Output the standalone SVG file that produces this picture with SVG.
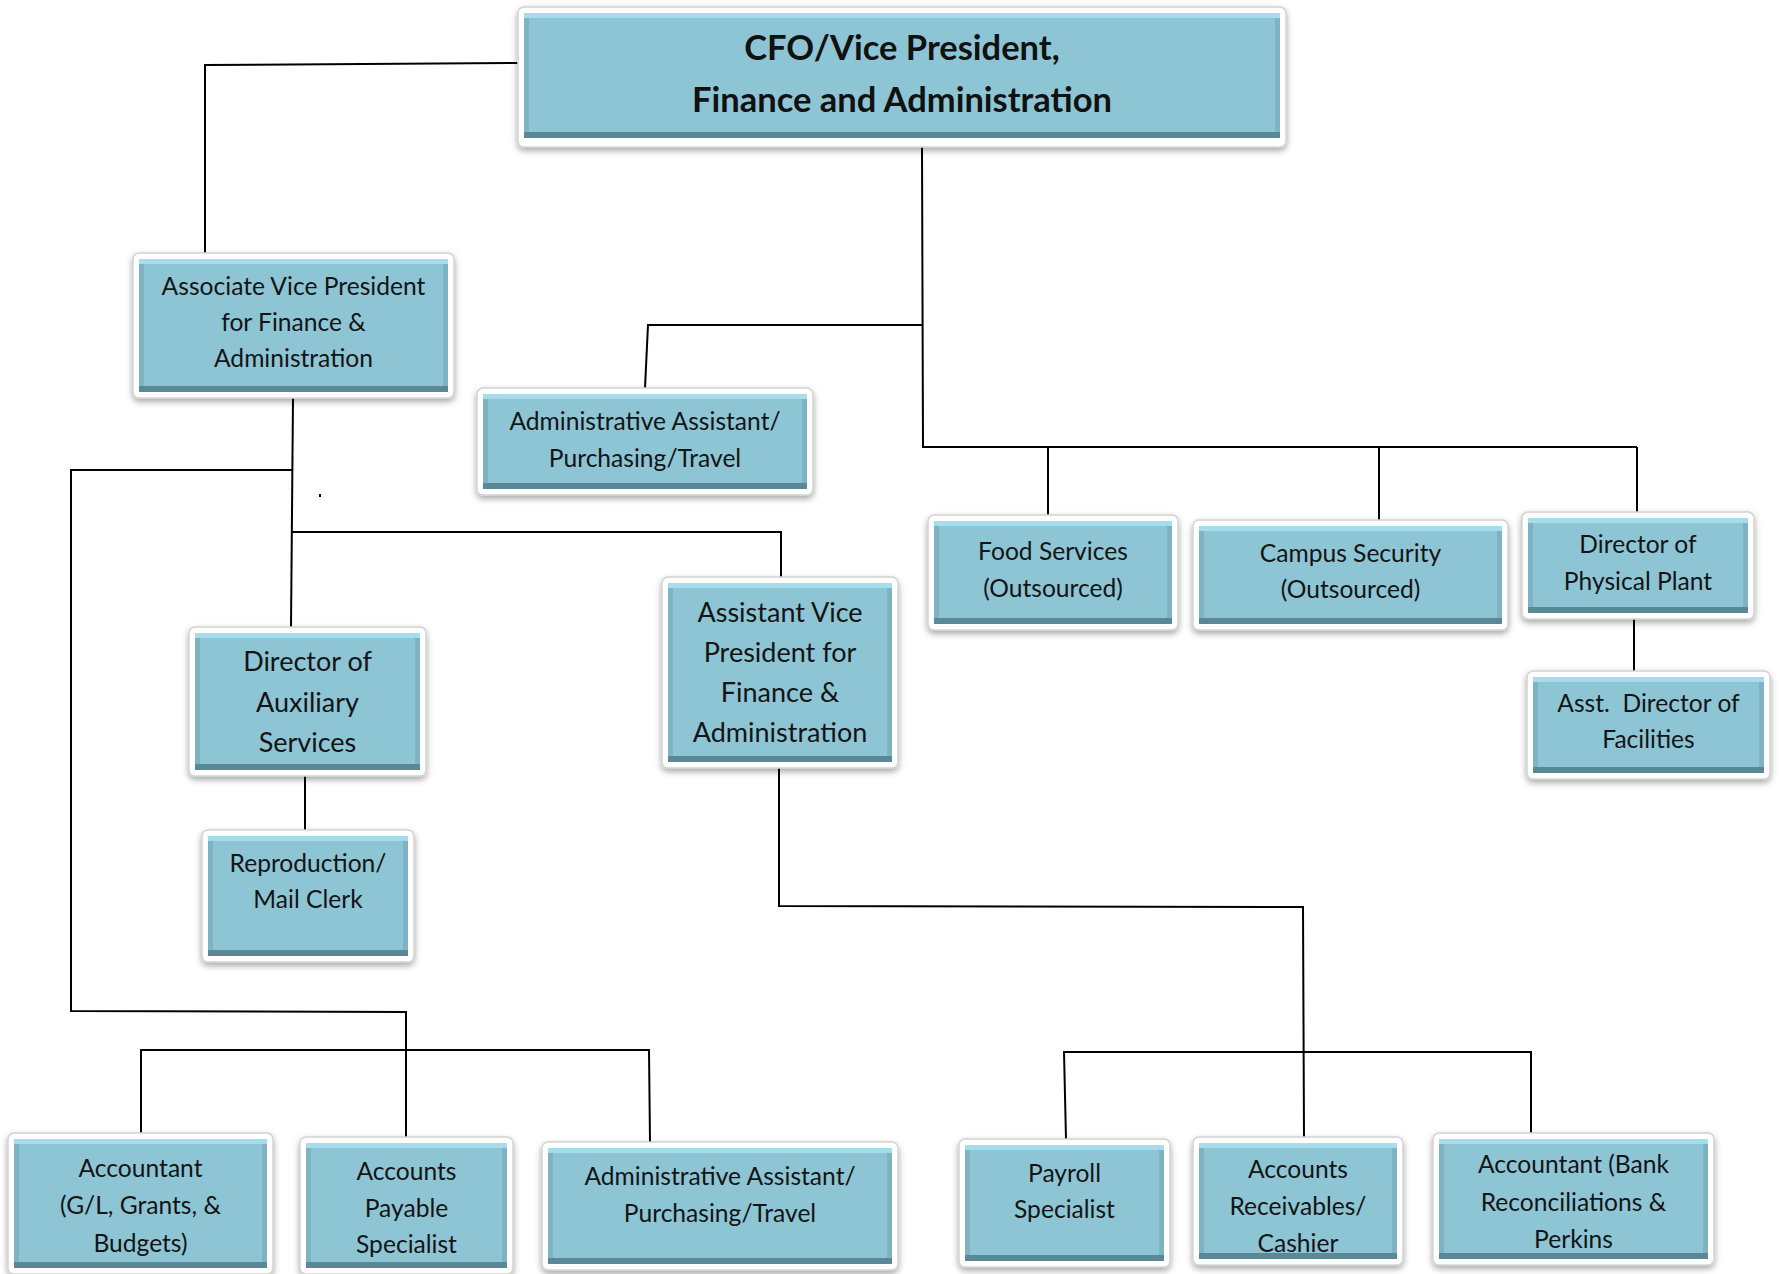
<svg xmlns="http://www.w3.org/2000/svg" width="1779" height="1274" viewBox="0 0 1779 1274">
<defs>
<filter id="sh" x="-10%" y="-10%" width="120%" height="130%">
<feDropShadow dx="0" dy="3" stdDeviation="3" flood-color="#000" flood-opacity="0.35"/>
</filter>
<style>
.frame{fill:#fff;stroke:#d2d2d2;stroke-width:1.5;filter:url(#sh)}
.bd{fill:#5a8896}
.bl{fill:#a6dded}
.bs{fill:#7db3c3}
.face{fill:#8dc5d5}
.lbl{font-family:Lato,"Open Sans","Liberation Sans",sans-serif;font-size:24.6px;fill:#141414;text-anchor:middle}
.big{font-size:27px}
.ttl{font-family:Lato,"Open Sans","Liberation Sans",sans-serif;font-size:34.5px;font-weight:bold;fill:#111;text-anchor:middle}
.wire{fill:none;stroke:#000;stroke-width:2}
</style>
</defs>
<rect width="1779" height="1274" fill="#fff"/>

<g id="connectors">
<path class="wire" d="M523,63 L205,65 L205,253"/>
<path class="wire" d="M922,147 L923,447 L1637,447"/>
<path class="wire" d="M923,325 L648,325 L645,388"/>
<path class="wire" d="M1048,447 L1048,515"/>
<path class="wire" d="M1379,447 L1379,520"/>
<path class="wire" d="M1637,447 L1637,512"/>
<path class="wire" d="M1634,619 L1634,671"/>
<path class="wire" d="M293,398 L291,627"/>
<path class="wire" d="M293,470 L71,470 L71,1011 L406,1012 L406,1137"/>
<path class="wire" d="M292,532 L781,532 L781,577"/>
<path class="wire" d="M141,1133 L141,1050 L649,1050 L650,1142"/>
<path class="wire" d="M305,776 L305,830"/>
<path class="wire" d="M779,768 L779,906 L1303,907 L1304,1137"/>
<path class="wire" d="M1066,1139 L1064,1052 L1531,1052 L1531,1133"/>
<rect x="319" y="494" width="2" height="3" fill="#000"/>
</g>

<g id="n-cfo">
<rect class="frame" x="518" y="7" width="768" height="140" rx="6"/>
<rect class="bd" x="524" y="13" width="756" height="125"/>
<rect class="bl" x="524" y="13" width="756" height="119"/>
<rect class="bs" x="524" y="18" width="756" height="114"/>
<rect class="face" x="529" y="18" width="746" height="114"/>
<text class="ttl"><tspan x="902" y="60">CFO/Vice President,</tspan><tspan x="902" y="112">Finance and Administration</tspan></text>
</g>

<g id="n-assoc">
<rect class="frame" x="133" y="253" width="321" height="145" rx="6"/>
<rect class="bd" x="139" y="259" width="309" height="133"/>
<rect class="bl" x="139" y="259" width="309" height="127"/>
<rect class="bs" x="139" y="264" width="309" height="122"/>
<rect class="face" x="144" y="264" width="299" height="122"/>
<text class="lbl"><tspan x="293.5" y="295">Associate Vice President</tspan><tspan x="293.5" y="331">for Finance &amp;</tspan><tspan x="293.5" y="367">Administration</tspan></text>
</g>

<g id="n-admin1">
<rect class="frame" x="477" y="388" width="336" height="107" rx="6"/>
<rect class="bd" x="483" y="394" width="324" height="95"/>
<rect class="bl" x="483" y="394" width="324" height="89"/>
<rect class="bs" x="483" y="399" width="324" height="84"/>
<rect class="face" x="488" y="399" width="314" height="84"/>
<text class="lbl"><tspan x="645" y="430">Administrative Assistant/</tspan><tspan x="645" y="467">Purchasing/Travel</tspan></text>
</g>

<g id="n-food">
<rect class="frame" x="928" y="515" width="250" height="115" rx="6"/>
<rect class="bd" x="934" y="521" width="238" height="103"/>
<rect class="bl" x="934" y="521" width="238" height="97"/>
<rect class="bs" x="934" y="526" width="238" height="92"/>
<rect class="face" x="939" y="526" width="228" height="92"/>
<text class="lbl"><tspan x="1053" y="560">Food Services</tspan><tspan x="1053" y="597">(Outsourced)</tspan></text>
</g>

<g id="n-campus">
<rect class="frame" x="1193" y="520" width="315" height="110" rx="6"/>
<rect class="bd" x="1199" y="526" width="303" height="98"/>
<rect class="bl" x="1199" y="526" width="303" height="92"/>
<rect class="bs" x="1199" y="531" width="303" height="87"/>
<rect class="face" x="1204" y="531" width="293" height="87"/>
<text class="lbl"><tspan x="1350.5" y="562">Campus Security</tspan><tspan x="1350.5" y="598">(Outsourced)</tspan></text>
</g>

<g id="n-plant">
<rect class="frame" x="1522" y="512" width="232" height="107" rx="6"/>
<rect class="bd" x="1528" y="518" width="220" height="95"/>
<rect class="bl" x="1528" y="518" width="220" height="89"/>
<rect class="bs" x="1528" y="523" width="220" height="84"/>
<rect class="face" x="1533" y="523" width="210" height="84"/>
<text class="lbl"><tspan x="1638" y="553">Director of</tspan><tspan x="1638" y="590">Physical Plant</tspan></text>
</g>

<g id="n-facilities">
<rect class="frame" x="1527" y="671" width="243" height="108" rx="6"/>
<rect class="bd" x="1533" y="677" width="231" height="96"/>
<rect class="bl" x="1533" y="677" width="231" height="90"/>
<rect class="bs" x="1533" y="682" width="231" height="85"/>
<rect class="face" x="1538" y="682" width="221" height="85"/>
<text class="lbl"><tspan x="1648.5" y="712">Asst.&#160; Director of</tspan><tspan x="1648.5" y="748">Facilities</tspan></text>
</g>

<g id="n-aux">
<rect class="frame" x="189" y="627" width="237" height="149" rx="6"/>
<rect class="bd" x="195" y="633" width="225" height="137"/>
<rect class="bl" x="195" y="633" width="225" height="131"/>
<rect class="bs" x="195" y="638" width="225" height="126"/>
<rect class="face" x="200" y="638" width="215" height="126"/>
<text class="lbl big"><tspan x="307.5" y="671">Director of</tspan><tspan x="307.5" y="712">Auxiliary</tspan><tspan x="307.5" y="752">Services</tspan></text>
</g>

<g id="n-repro">
<rect class="frame" x="202" y="830" width="212" height="132" rx="6"/>
<rect class="bd" x="208" y="836" width="200" height="120"/>
<rect class="bl" x="208" y="836" width="200" height="114"/>
<rect class="bs" x="208" y="841" width="200" height="109"/>
<rect class="face" x="213" y="841" width="190" height="109"/>
<text class="lbl"><tspan x="308" y="872">Reproduction/</tspan><tspan x="308" y="908">Mail Clerk</tspan></text>
</g>

<g id="n-asstvp">
<rect class="frame" x="662" y="577" width="236" height="191" rx="6"/>
<rect class="bd" x="668" y="583" width="224" height="179"/>
<rect class="bl" x="668" y="583" width="224" height="173"/>
<rect class="bs" x="668" y="588" width="224" height="168"/>
<rect class="face" x="673" y="588" width="214" height="168"/>
<text class="lbl big"><tspan x="780" y="622">Assistant Vice</tspan><tspan x="780" y="662">President for</tspan><tspan x="780" y="702">Finance &amp;</tspan><tspan x="780" y="742">Administration</tspan></text>
</g>

<g id="n-acct">
<rect class="frame" x="8" y="1133" width="265" height="141" rx="6"/>
<rect class="bd" x="14" y="1139" width="253" height="129"/>
<rect class="bl" x="14" y="1139" width="253" height="123"/>
<rect class="bs" x="14" y="1144" width="253" height="118"/>
<rect class="face" x="19" y="1144" width="243" height="118"/>
<text class="lbl"><tspan x="140.5" y="1177">Accountant</tspan><tspan x="140.5" y="1214">(G/L, Grants, &amp;</tspan><tspan x="140.5" y="1252">Budgets)</tspan></text>
</g>

<g id="n-ap">
<rect class="frame" x="300" y="1137" width="213" height="137" rx="6"/>
<rect class="bd" x="306" y="1143" width="201" height="125"/>
<rect class="bl" x="306" y="1143" width="201" height="119"/>
<rect class="bs" x="306" y="1148" width="201" height="114"/>
<rect class="face" x="311" y="1148" width="191" height="114"/>
<text class="lbl"><tspan x="406.5" y="1180">Accounts</tspan><tspan x="406.5" y="1217">Payable</tspan><tspan x="406.5" y="1253">Specialist</tspan></text>
</g>

<g id="n-admin2">
<rect class="frame" x="542" y="1142" width="356" height="128" rx="6"/>
<rect class="bd" x="548" y="1148" width="344" height="116"/>
<rect class="bl" x="548" y="1148" width="344" height="110"/>
<rect class="bs" x="548" y="1153" width="344" height="105"/>
<rect class="face" x="553" y="1153" width="334" height="105"/>
<text class="lbl"><tspan x="720" y="1185">Administrative Assistant/</tspan><tspan x="720" y="1222">Purchasing/Travel</tspan></text>
</g>

<g id="n-payroll">
<rect class="frame" x="959" y="1139" width="211" height="128" rx="6"/>
<rect class="bd" x="965" y="1145" width="199" height="116"/>
<rect class="bl" x="965" y="1145" width="199" height="110"/>
<rect class="bs" x="965" y="1150" width="199" height="105"/>
<rect class="face" x="970" y="1150" width="189" height="105"/>
<text class="lbl"><tspan x="1064.5" y="1182">Payroll</tspan><tspan x="1064.5" y="1218">Specialist</tspan></text>
</g>

<g id="n-recv">
<rect class="frame" x="1193" y="1137" width="210" height="128" rx="6"/>
<rect class="bd" x="1199" y="1143" width="198" height="116"/>
<rect class="bl" x="1199" y="1143" width="198" height="110"/>
<rect class="bs" x="1199" y="1148" width="198" height="105"/>
<rect class="face" x="1204" y="1148" width="188" height="105"/>
<text class="lbl"><tspan x="1298" y="1178">Accounts</tspan><tspan x="1298" y="1215">Receivables/</tspan><tspan x="1298" y="1252">Cashier</tspan></text>
</g>

<g id="n-bank">
<rect class="frame" x="1433" y="1133" width="281" height="132" rx="6"/>
<rect class="bd" x="1439" y="1139" width="269" height="120"/>
<rect class="bl" x="1439" y="1139" width="269" height="114"/>
<rect class="bs" x="1439" y="1144" width="269" height="109"/>
<rect class="face" x="1444" y="1144" width="259" height="109"/>
<text class="lbl"><tspan x="1573.5" y="1173">Accountant (Bank</tspan><tspan x="1573.5" y="1211">Reconciliations &amp;</tspan><tspan x="1573.5" y="1248">Perkins</tspan></text>
</g>
</svg>
